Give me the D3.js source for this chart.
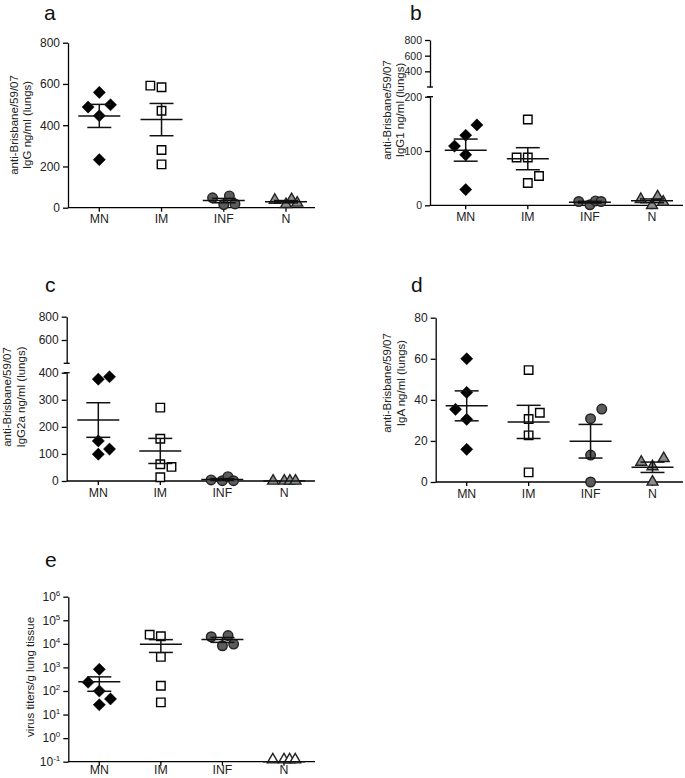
<!DOCTYPE html>
<html><head><meta charset="utf-8">
<script src="https://cdn.jsdelivr.net/npm/d3@7"></script>
<style>body{margin:0;background:#fff}svg{display:block;background:#fff}</style>
</head><body>
<script>
// ---------------- DATA ----------------
const categories = ["MN", "IM", "INF", "N"];

// panel a: anti-Brisbane/59/07 IgG ng/ml (lungs)
const igGValues = [[559, 488, 499, 446, 233], [592, 584, 470, 280, 210], [48, 57, 15, 18], [37, 40, 16, 23]];
// panel b: IgG1
const igG1Values = [[148, 129, 109, 93, 29], [158, 88, 88, 41, 54], [7, 1, 8, 7], [11, 0, 16, 6]];
// panel c: IgG2a
const igG2aValues = [[376, 385, 148, 99, 118], [271, 156, 62, 52, 14], [4, 1, 16, 1], [0, 0, 0, 0]];
// panel d: IgA
const igAValues = [[60, 43.6, 35.4, 30.5, 15.9], [54.5, 33.7, 30.7, 22.7, 4.7], [35.5, 30.8, 13.1, 0], [9.7, 7.5, 11.5, 0]];
// panel e: virus titers/g lung tissue (N below detection, shown at 10^-1)
const virusValues = [[830, 234, 100, 46, 26], [24500, 21000, 2800, 166, 33], [20000, 22400, 8300, 9800], [0.1, 0.1, 0.1, 0.1]];

// tick values
const igGTicks = [0, 200, 400, 600, 800];
const igG1LowTicks = [0, 100, 200];
const igG1HighTicks = [400, 600, 800];
const igG2aLowTicks = [0, 100, 200, 300, 400];
const igG2aHighTicks = [600, 800];
const igATicks = [0, 20, 40, 60, 80];
const virusTicks = [1e-1, 1e0, 1e1, 1e2, 1e3, 1e4, 1e5, 1e6];

// scatter dodge slots (layout only, in half-marker steps) for overlapping points
const igGDodge = [[0, -2, 2, 0, 0], [-2, 0, 0, 0, 0], [-2, 1, 0, 2], [-2, 1, 0, 2]];
const igG1Dodge = [[2, 0, -2, 0, 0], [0, -2, 0, 0, 2], [-2, 0, 1, 2], [-2, 0, 1, 2]];
const igG2aDodge = [[0, 2, 0, 0, 2], [0, 0, 0, 2, 0], [-2, 0, 1, 2], [-2, 0, 1, 2]];
const igADodge = [[0, 0, -2, 0, 0], [0, 2, 0, 0, 0], [2, 0, 0, 0], [-2, 0, 2, 0]];
const virusDodge = [[0, -2, 0, 2, 0], [-2, 0, 0, 0, 0], [-2, 1, 0, 2], [-2, 0, 1, 2]];

// ---------------- STYLE ----------------
const FONT = "'Liberation Sans', Arial, sans-serif";
const shapes = ["diamond", "square", "circle", "triangle"];
const fills = ["#000000", "#ffffff", "#5c5c5c", "#8e8e8e"];
const DODGE = 5.6;

const svg = d3.select("body").append("svg").attr("width", 685).attr("height", 778);

const panels = [
  { letter: "a", lx: 44, ly: 19.5, axisX: 68, xEnd: 315, xRange: [99.3, 286], values: igGValues, dodge: igGDodge,
    segments: [{ domain: [0, 800], range: [207.7, 42.7], ticks: igGTicks }],
    titles: ["anti-Brisbane/59/07", "IgG ng/ml (lungs)"], titleX: [18, 31], titleY: 125, tickFont: 12, catDy: 15.5 },
  { letter: "b", lx: 410, ly: 19.5, axisX: 430, xEnd: 683, xRange: [465.7, 652], values: igG1Values, dodge: igG1Dodge,
    segments: [{ domain: [0, 200], range: [205.3, 96.7], ticks: igG1LowTicks },
               { domain: [200, 800], range: [87, 40], ticks: igG1HighTicks }],
    titles: ["anti-Brisbane/59/07", "IgG1 ng/ml (lungs)"], titleX: [391, 404], titleY: 110, tickFont: 10.5, catDy: 15.5 },
  { letter: "c", lx: 45, ly: 292, axisX: 66.7, xEnd: 315, xRange: [98.3, 284.3], values: igG2aValues, dodge: igG2aDodge,
    segments: [{ domain: [0, 400], range: [481, 372.7], ticks: igG2aLowTicks },
               { domain: [400, 800], range: [363.3, 316.7], ticks: igG2aHighTicks }],
    titles: ["anti-Brisbane/59/07", "IgG2a ng/ml (lungs)"], titleX: [11, 25], titleY: 397, tickFont: 12, catDy: 15.5 },
  { letter: "d", lx: 411, ly: 292, axisX: 435.7, xEnd: 683, xRange: [466.7, 652.5], values: igAValues, dodge: igADodge,
    segments: [{ domain: [0, 80], range: [482, 317.7], ticks: igATicks }],
    titles: ["anti-Brisbane/59/07", "IgA ng/ml (lungs)"], titleX: [391, 405], titleY: 383, tickFont: 12, catDy: 15.5 },
  { letter: "e", lx: 45, ly: 567, axisX: 68.3, xEnd: 315, xRange: [99.3, 284], values: virusValues, dodge: virusDodge,
    log: { domain: [0.1, 1e6], range: [761.7, 596.7], ticks: virusTicks },
    titles: ["virus titers/g lung tissue"], titleX: [34], titleY: 677, tickFont: 12, nFill: "#ffffff", catDy: 12.5 }
];

function symbolPath(shape) {
  if (shape === "diamond") return d3.symbol(d3.symbolSquare, 74)();
  if (shape === "square") return d3.symbol(d3.symbolSquare, 72)();
  if (shape === "circle") return d3.symbol(d3.symbolCircle, 72)();
  return d3.symbol(d3.symbolTriangle, 52)();
}

function styleAxis(sel, fontSize) {
  sel.select(".domain").attr("stroke", "#000").attr("stroke-width", 1.3);
  sel.selectAll(".tick line").attr("stroke", "#000").attr("stroke-width", 1.3);
  sel.selectAll(".tick text").attr("font-family", FONT).attr("font-size", fontSize).attr("fill", "#222");
}

panels.forEach(p => {
  const g = svg.append("g");
  const x = d3.scalePoint().domain(categories).range(p.xRange);

  // y mapping
  let yFn, y0;
  if (p.log) {
    const ys = d3.scaleLog().domain(p.log.domain).range(p.log.range);
    yFn = v => ys(Math.max(v, p.log.domain[0]));
    y0 = ys(p.log.domain[0]);
    const ax = g.append("g").attr("transform", `translate(${p.axisX},0)`)
      .call(d3.axisLeft(ys).tickValues(p.log.ticks).tickSize(5).tickSizeOuter(0).tickPadding(3).tickFormat(() => ""));
    styleAxis(ax, p.tickFont);
    ax.selectAll(".tick text").each(function (d) {
      const t = d3.select(this);
      t.text("10");
      t.append("tspan").attr("dy", -5).attr("font-size", 8).text(Math.round(Math.log10(d)));
    });
  } else {
    const scales = p.segments.map(s => d3.scaleLinear().domain(s.domain).range(s.range));
    yFn = v => {
      for (let i = 0; i < scales.length; i++) {
        if (v <= p.segments[i].domain[1] || i === scales.length - 1) return scales[i](v);
      }
    };
    y0 = scales[0](0);
    scales.forEach((s, i) => {
      const ax = g.append("g").attr("transform", `translate(${p.axisX},0)`)
        .call(d3.axisLeft(s).tickValues(p.segments[i].ticks).tickSize(5).tickSizeOuter(0).tickPadding(3));
      styleAxis(ax, p.tickFont);
    });
    // break marks
    if (scales.length > 1) {
      [p.segments[0].range[1], p.segments[1].range[0]].forEach(yy => {
        g.append("line").attr("x1", p.axisX - 3).attr("x2", p.axisX + 3).attr("y1", yy).attr("y2", yy)
          .attr("stroke", "#000").attr("stroke-width", 1.3);
      });
    }
  }

  // x axis
  g.append("line").attr("x1", p.axisX).attr("x2", p.xEnd).attr("y1", y0).attr("y2", y0)
    .attr("stroke", "#000").attr("stroke-width", 1.3);
  categories.forEach(c => {
    g.append("line").attr("x1", x(c)).attr("x2", x(c)).attr("y1", y0).attr("y2", y0 + 4)
      .attr("stroke", "#000").attr("stroke-width", 1.3);
    g.append("text").attr("x", x(c)).attr("y", y0 + p.catDy).attr("text-anchor", "middle")
      .attr("font-family", FONT).attr("font-size", 12.3).attr("fill", "#222").text(c);
  });

  // markers
  p.values.forEach((vals, gi) => {
    const fill = (gi === 3 && p.nFill) ? p.nFill : fills[gi];
    const stroke = gi === 0 ? "#000" : (gi === 1 ? "#000" : "#222");
    vals.forEach((v, i) => {
      const cx = x(categories[gi]) + p.dodge[gi][i] * DODGE;
      const cy = yFn(v) - (gi === 3 && p.log ? 2 : 0);
      g.append("path").attr("d", symbolPath(shapes[gi]))
        .attr("transform", `translate(${cx},${cy})` + (shapes[gi] === "diamond" ? " rotate(45)" : ""))
        .attr("fill", fill).attr("stroke", stroke).attr("stroke-width", shapes[gi] === "diamond" ? 0.5 : 1.4);
    });
  });

  // mean ± SEM
  p.values.forEach((vals, gi) => {
    const m = d3.mean(vals);
    const sem = vals.length > 1 ? d3.deviation(vals) / Math.sqrt(vals.length) : 0;
    const cx = x(categories[gi]);
    const ym = yFn(m), yt = yFn(m + sem), yb = yFn(m - sem);
    const ln = (x1, x2, y1, y2) => g.append("line").attr("x1", x1).attr("x2", x2).attr("y1", y1).attr("y2", y2)
      .attr("stroke", "#111").attr("stroke-width", 1.5);
    ln(cx - 21, cx + 21, ym, ym);
    if (sem > 0) {
      ln(cx, cx, yt, yb);
      ln(cx - 12, cx + 12, yt, yt);
      ln(cx - 12, cx + 12, yb, yb);
    }
  });

  // axis titles
  p.titles.forEach((t, i) => {
    g.append("text").attr("transform", `translate(${p.titleX[i]},${p.titleY}) rotate(-90)`)
      .attr("text-anchor", "middle").attr("font-family", FONT).attr("font-size", 11.5).attr("fill", "#222").text(t);
  });

  // panel letter
  g.append("text").attr("x", p.lx).attr("y", p.ly).attr("font-family", FONT)
    .attr("font-size", 21).attr("fill", "#111").text(p.letter);
});
</script>
</body></html>
